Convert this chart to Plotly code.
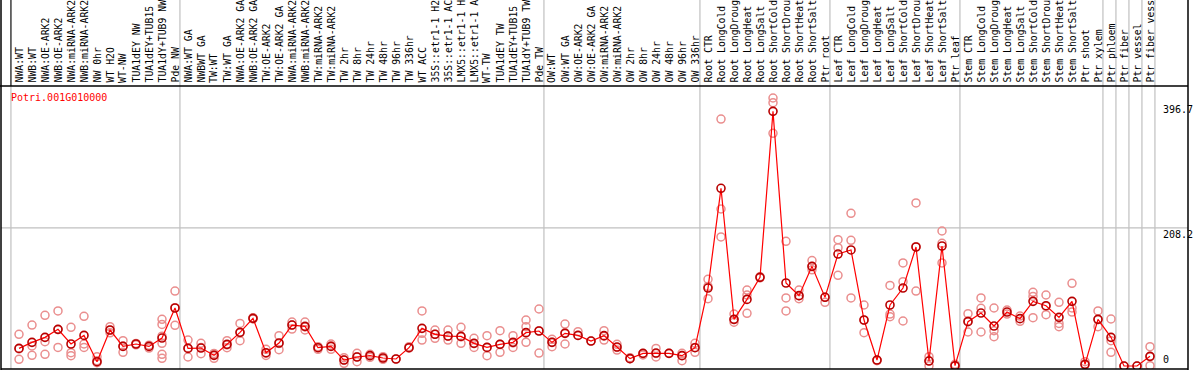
import plotly.graph_objects as go

title_text = "Potri.001G010000"

categories = [
    "NWA:WT", "NWB:WT", "NWA:OE-ARK2", "NWB:OE-ARK2", "NWA:miRNA-ARK2", "NWB:miRNA-ARK2",
    "NW 0hr", "WT H2O", "WT-NW", "TUA1dEY NW", "TUA1dEY+TUB15", "TUA1dY+TUB9 NW", "Pde NW",
    "NWA:WT GA", "NWBWT GA", "TW:WT", "TW:WT GA", "NWA:OE-ARK2 GA", "NWB:OE-ARK2 GA",
    "TW:OE-ARK2", "TW:OE-ARK2 GA", "NWA:miRNA-ARK2", "NWB:miRNA-ARK2", "TW:miRNA-ARK2",
    "TW:miRNA-ARK2", "TW 2hr", "TW 8hr", "TW 24hr", "TW 48hr", "TW 96hr", "TW 336hr", "WT ACC",
    "35S::etr1-1 H2", "35S::etr1-1 AC", "LMX5::etr1-1 H", "LMX5::etr1-1 A", "WT-TW",
    "TUA1dEY TW", "TUA1dEY+TUB15", "TUA1dY+TUB9 TW", "Pde TW",
    "OW:WT", "OW:WT GA", "OW:OE-ARK2", "OW:OE-ARK2 GA", "OW:miRNA-ARK2", "OW:miRNA-ARK2",
    "OW 2hr", "OW 8hr", "OW 24hr", "OW 48hr", "OW 96hr", "OW 336hr",
    "Root CTR", "Root LongCold", "Root LongDroug", "Root LongHeat", "Root LongSalt",
    "Root ShortCold", "Root ShortDrou", "Root ShortHeat", "Root ShortSalt", "Ptr root",
    "Leaf CTR", "Leaf LongCold", "Leaf LongDroug", "Leaf LongHeat", "Leaf LongSalt",
    "Leaf ShortCold", "Leaf ShortDrou", "Leaf ShortHeat", "Leaf ShortSalt", "Ptr leaf",
    "Stem CTR", "Stem LongCold", "Stem LongDroug", "Stem LongHeat", "Stem LongSalt",
    "Stem ShortCold", "Stem ShortDrou", "Stem ShortHeat", "Stem ShortSalt", "Ptr shoot",
    "Ptr xylem", "Ptr phloem", "Ptr fiber", "Ptr vessel", "Ptr fiber vess",
]

# first category index of each group (and end)
group_starts = [0, 13, 41, 53, 63, 73, 84, 85, 86, 87, 88]

means = [
    26.6, 35.7, 43.2, 55.3, 33.2, 46.2, 6.5, 54.3, 29.6, 33.2, 29.6, 42.2, 87.5,
    26.6, 27.1, 16.1, 32.7, 50.8, 71.9, 20.1, 34.7, 61.8, 59.8, 27.6, 29.6, 9.0, 13.6,
    15.6, 12.1, 10.6, 27.6, 56.8, 47.8, 45.2, 44.7, 34.2, 28.1, 32.7, 35.7, 50.3, 52.8,
    35.7, 49.3, 46.2, 37.7, 45.8, 28.6, 11.1, 19.1, 19.6, 19.1, 15.6, 27.6,
    117.6, 268.0, 70.4, 100.5, 133.7, 384.1, 125.2, 106.1, 150.3, 103.6,
    168.9, 175.0, 69.4, 9.0, 92.0, 117.6, 179.5, 7.5, 181.0, 0.5,
    66.9, 79.9, 60.3, 81.4, 71.4, 97.5, 91.0, 73.4, 97.5, 2.5, 70.4,
    43.2, 0.0, 0.0, 14.6,
]

replicates = [
    [47.8, 10.1, 26.0], [61.8, 30.2, 16.1], [76.4, 36.7, 17.6], [83.0, 28.1, 55.0],
    [58.3, 20.1, 15.6], [74.9, 33.2, 28.1], [14.1, 5.0, 8.0], [59.3, 54.0, 50.0],
    [38.2, 20.6, 30.0], [33.2, 32.0, 34.0], [31.5, 27.0, 30.0],
    [70.4, 62.8, 34.2, 17.6, 11.6, 45.0], [113.0, 61.3, 88.0],
    [39.2, 13.6, 27.0], [34.2, 18.6, 28.0], [19.0, 11.6, 17.0], [38.2, 27.6, 32.0],
    [64.3, 38.2, 50.0], [72.9, 71.0, 72.0], [25.1, 19.1, 16.0], [45.8, 24.6, 34.0],
    [66.4, 55.8, 62.0], [66.4, 54.3, 59.0], [29.1, 25.1, 28.0], [33.2, 25.1, 30.0],
    [12.6, 4.0, 9.0], [19.1, 6.5, 14.0], [17.6, 13.1, 16.0], [14.1, 10.1, 12.0],
    [10.6], [29.1, 27.0], [83.0, 49.3, 39.2], [54.3, 41.7, 48.0], [54.3, 39.2, 45.0],
    [58.3, 34.2, 44.0], [41.7, 28.1, 34.0], [45.8, 15.6, 28.0], [53.3, 20.6, 33.0],
    [45.8, 28.1, 35.0], [69.4, 59.3, 35.7, 50.0], [86.0, 19.6, 53.0],
    [40.2, 29.1, 36.0], [63.3, 33.2, 50.0], [51.8, 46.0], [37.7], [53.3, 39.2, 45.0],
    [32.7, 24.1, 28.0], [12.6, 11.0], [16.6, 19.0], [26.6, 13.6, 19.0], [19.1],
    [19.1, 8.0, 16.0], [34.2, 20.6, 28.0],
    [130.7, 101.6, 120.0], [372.5, 236.8, 194.6], [78.4, 66.0, 70.0],
    [114.6, 79.4, 107.0], [134.7, 133.0], [404.2, 397.2, 350.9], [188.0, 102.6, 83.0],
    [114.6, 101.6, 106.0], [159.0, 145.0, 150.0], [96.0, 104.0],
    [190.6, 178.5, 136.7], [230.3, 189.5, 102.6], [92.0, 50.3, 69.0], [9.0, 8.0],
    [121.6, 78.4, 74.4], [155.4, 127.2, 67.9], [245.9, 113.1, 180.0], [14.1, 0.5, 8.0],
    [203.6, 185.0, 155.4], [2.5, 0.0],
    [79.0, 51.3, 68.0], [102.6, 87.0, 51.3], [87.5, 53.3, 44.2], [84.4, 78.4],
    [75.4, 67.4], [111.1, 72.9, 105.0], [107.1, 77.4, 90.0], [96.0, 64.3, 59.3],
    [124.7, 87.5, 81.4], [6.5, 2.0], [83.0, 59.3, 70.0],
    [70.9, 38.2, 20.6], [0.0], [0.0], [29.1, 0.5, 14.0],
]

ytick_vals = [0, 208.2, 396.7]
ytick_text = ["0", "208.2", "396.7"]

W, H = 1194, 370
L, R, T, B = 1, 6, 86, 1
PW, PH = W - L - R, H - T - B
PX_PER_CAT = 13
x0_px = 19
xmin = -(x0_px - L) / PX_PER_CAT
xmax = xmin + PW / PX_PER_CAT
ymin, ymax = -4.5, 422.3
mono = "DejaVu Sans Mono"

xs = list(range(len(categories)))
rep_x, rep_y = [], []
for i, reps in enumerate(replicates):
    for v in reps:
        rep_x.append(i)
        rep_y.append(v)

fig = go.Figure()
fig.add_trace(go.Scatter(
    x=rep_x, y=rep_y, mode="markers", cliponaxis=True,
    marker=dict(symbol="circle-open", size=8, color="#ea8e8e", line=dict(width=1.5)),
    hoverinfo="skip", showlegend=False,
))
fig.add_trace(go.Scatter(
    x=xs, y=means, mode="lines+markers", cliponaxis=True,
    line=dict(color="#ff0000", width=1.2),
    marker=dict(symbol="circle-open", size=8, color="#b80000", line=dict(width=1.6)),
    showlegend=False,
))

shapes = []
top_paper = 1 + T / PH
bot_paper = -B / PH
# group boundaries
for k in group_starts:
    bx = k - 0.62
    shapes.append(dict(type="line", xref="x", yref="paper", x0=bx, x1=bx,
                       y0=0, y1=top_paper, line=dict(color="#c0c0c0", width=1.2), layer="below"))
shapes.append(dict(type="line", xref="x", yref="paper", x0=-0.62, x1=-0.62,
                   y0=1, y1=top_paper, line=dict(color="#000000", width=1)))
# horizontal grid at middle tick
shapes.append(dict(type="line", xref="paper", yref="y", x0=0, x1=1,
                   y0=ytick_vals[1], y1=ytick_vals[1], line=dict(color="#c0c0c0", width=1.2), layer="below"))
# header separator and borders
shapes.append(dict(type="line", xref="paper", yref="paper", x0=-L / PW, x1=1, y0=1, y1=1,
                   line=dict(color="#000000", width=1.5)))
shapes.append(dict(type="line", xref="paper", yref="paper", x0=0, x1=1, y0=0, y1=0,
                   line=dict(color="#000000", width=1.5)))
shapes.append(dict(type="line", xref="paper", yref="paper", x0=1, x1=1, y0=bot_paper, y1=top_paper,
                   line=dict(color="#000000", width=1.5)))
shapes.append(dict(type="line", xref="paper", yref="paper", x0=0, x1=0, y0=bot_paper, y1=top_paper,
                   line=dict(color="#000000", width=1.5)))

annotations = []
# category labels in the header, reading bottom-to-top
for i, c in enumerate(categories):
    annotations.append(dict(text=c, xref="x", yref="paper", x=i, y=1 + 2 / PH,
                            xanchor="center", yanchor="bottom", textangle=-90,
                            showarrow=False, borderpad=0,
                            font=dict(family=mono, size=9.8, color="#000000")))
annotations.append(dict(text=title_text, xref="paper", yref="paper",
                        x=(9 - L) / PW, y=1 - 4 / PH, xanchor="left", yanchor="top",
                        showarrow=False, font=dict(family=mono, size=10, color="#ff0000")))
lab_x = (1162 - L) / PW
for v, t in zip(ytick_vals, ytick_text):
    annotations.append(dict(text=t, xref="paper", yref="y", x=lab_x, y=v,
                            xanchor="left", yanchor="bottom" if v == 0 else "top",
                            showarrow=False, borderpad=0,
                            font=dict(family=mono, size=10, color="#000000")))

fig.update_layout(
    width=W, height=H,
    margin=dict(l=L, r=R, t=T, b=B, pad=0),
    paper_bgcolor="white", plot_bgcolor="white",
    shapes=shapes, annotations=annotations,
    xaxis=dict(range=[xmin, xmax], showticklabels=False, ticks="", showgrid=False,
               showline=False, zeroline=False, automargin=False),
    yaxis=dict(range=[ymin, ymax], showticklabels=False, ticks="", showgrid=False,
               zeroline=False, showline=False, automargin=False),
)

fig.write_html("out.html", config={"displayModeBar": False},
               post_script="document.body.style.margin='0';")
